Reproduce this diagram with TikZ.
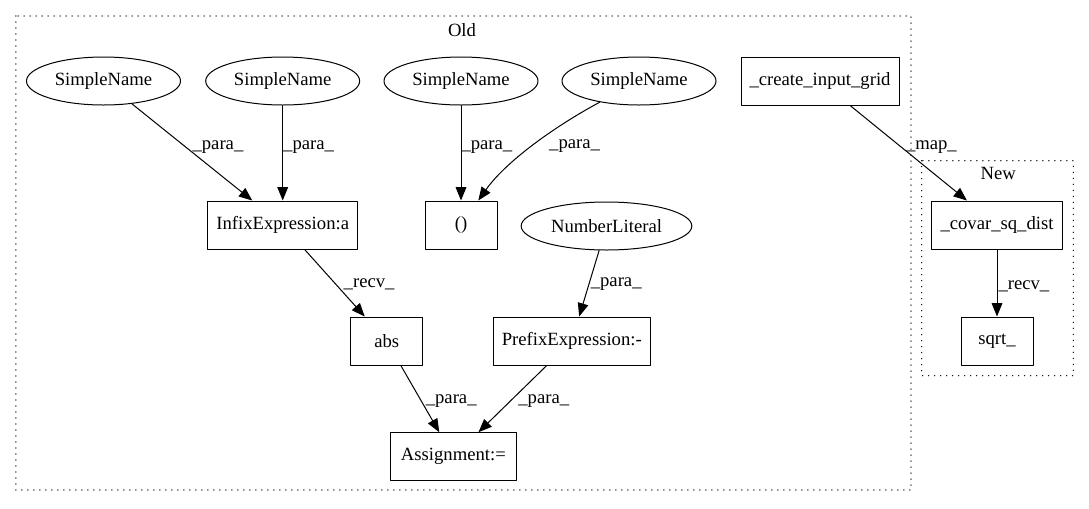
\documentclass[tikz,border=0pt]{standalone}
\usepackage{fontspec}
\setmainfont{Liberation Serif}
\usetikzlibrary{shapes.geometric,arrows.meta}
\begin{document}
\begin{tikzpicture}[x=0.75pt, y=-0.75pt, line cap=round, line join=round]

    \useasboundingbox (0,0) rectangle (1089,508);

    \tikzset{
      txt/.style={font=\fontsize{14}{16}\selectfont},
      box/.style={txt, draw, rectangle, line width=0.75pt,
        minimum height=36pt, inner xsep=4pt},
      oval/.style={txt, draw, ellipse, line width=0.75pt,
        minimum height=36pt, inner sep=0pt},
      elab/.style={txt, anchor=west, inner sep=0pt},
      arr/.style={-{Triangle[length=10pt,width=8pt]}, line width=0.75pt},
      cluster/.style={line width=1.1pt, dash pattern=on 0pt off 4.5pt}
    }

    % clusters
    \draw[cluster] (15.8,16) rectangle (911,490);
    \node[txt] (old) at (462,30) {Old};
    \draw[cluster] (921.7,160.7) rectangle (1073.3,375.7);
    \node[txt] (new) at (998.3,173.3) {New};

    \node[oval, minimum width=115.5pt] (sn1) at (103.5,81) {SimpleName};
    \node[oval, minimum width=115.5pt] (sn2) at (282.7,81) {SimpleName};
    \node[oval, minimum width=115.5pt] (sn3) at (461,81) {SimpleName};
    \node[oval, minimum width=115.5pt] (sn4) at (639,81) {SimpleName};
    \node[box, minimum width=118.5pt] (grid) at (820,81) {\_create\_input\_grid};

    \node[box, minimum width=112.5pt] (infix) at (282.7,225) {InfixExpression:a};
    \node[box, minimum width=54pt] (paren) at (461,225) {()};
    \node[oval, minimum width=128pt] (numlit) at (606.5,226) {NumberLiteral};
    \node[box, minimum width=98pt] (covar) at (997,225) {\_covar\_sq\_dist};

    \node[box, minimum width=54pt] (abs) at (386.7,341) {abs};
    \node[box, minimum width=117.4pt] (prefix) at (571.8,341) {PrefixExpression:-};
    \node[box, minimum width=54pt] (sqrt) at (997,341) {sqrt\_};

    \node[box, minimum width=94.5pt] (assign) at (453.4,456.7) {Assignment:=};

    % edges
    \draw[arr] (sn1) -- node[elab, pos=0.45, xshift=4.5pt] {\_para\_} (infix);
    \draw[arr] (sn2) -- node[elab, pos=0.44] {\_para\_} (infix);
    \draw[arr] (sn3) -- node[elab, pos=0.44] {\_para\_} (paren);
    \draw[arr] (sn4) .. controls (553.7,127) and (505.8,161.6) .. (paren)
      node[elab, pos=0.5, xshift=12.5pt] {\_para\_};
    \draw[arr] (grid) -- node[elab, pos=0.44, xshift=3pt] {\_map\_} (covar);
    \draw[arr] (infix) -- node[elab, pos=0.52, xshift=5.5pt] {\_recv\_} (abs);
    \draw[arr] (numlit) -- node[elab, pos=0.51, xshift=1pt] {\_para\_} (prefix);
    \draw[arr] (covar) -- node[elab, pos=0.55, xshift=0.75pt] {\_recv\_} (sqrt);
    \draw[arr] (abs) -- node[elab, pos=0.54, xshift=2.8pt] {\_para\_} (assign);
    \draw[arr] (prefix) -- node[elab, pos=0.54, xshift=6pt] {\_para\_} (assign);

\end{tikzpicture}
\end{document}
